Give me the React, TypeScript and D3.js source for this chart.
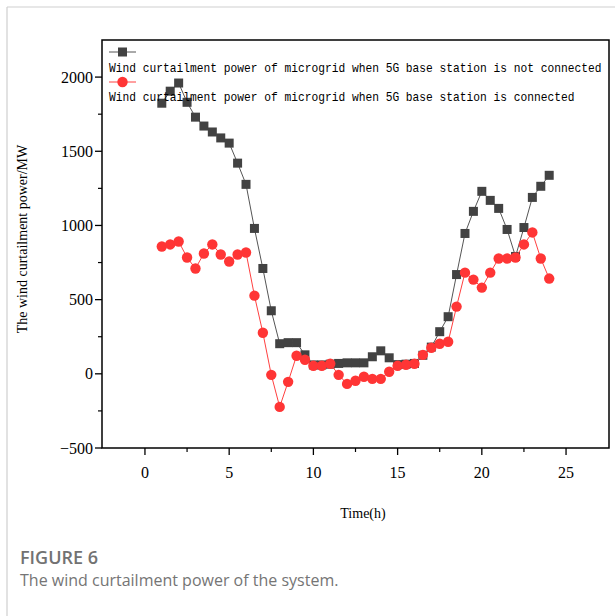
import React from 'react';
import * as d3 from 'd3';

// hours 1 .. 24 in half-hour steps
const hours: number[] = d3.range(1, 24.01, 0.5);

const notConnected: number[] = [
  1824, 1905, 1960, 1830, 1730, 1670, 1630, 1590, 1555, 1420,
  1277, 980, 710, 425, 203, 210, 210, 128, 60, 60,
  65, 70, 74, 74, 74, 115, 155, 108, 62, 65,
  70, 125, 180, 284, 385, 669, 946, 1095, 1230, 1169,
  1115, 973, 791, 986, 1189, 1264, 1338,
];

const connected: number[] = [
  858, 872, 892, 784, 710, 811, 872, 804, 757, 804,
  818, 527, 277, -7, -223, -54, 122, 95, 54, 54,
  68, -7, -68, -47, -20, -34, -34, 14, 54, 61,
  68, 128, 176, 203, 216, 453, 682, 635, 581, 682,
  777, 777, 784, 872, 953, 777, 642,
];

const xTicks = [0, 5, 10, 15, 20, 25];
const yTicks = [-500, 0, 500, 1000, 1500, 2000];
const legendLabels = [
  'Wind curtailment power of microgrid when 5G base station is not connected',
  'Wind curtailment power of microgrid when 5G base station is connected',
];

const W = 615, H = 616;
const box = { left: 102, right: 609, top: 40, bottom: 448 };

export default function App() {
  const x = d3.scaleLinear().domain([-2.55, 27.55]).range([box.left, box.right]);
  const y = d3.scaleLinear().domain([-500, 2250]).range([box.bottom, box.top]);

  const line = d3.line<number>()
    .x((_, i) => x(hours[i]))
    .y(d => y(d));

  const xMinor = d3.range(2.5, 27.5, 5);
  const yMinor = d3.range(-250, 2250, 500);
  const serif = '"Liberation Serif", "Times New Roman", serif';
  const mono = '"Liberation Mono", monospace';

  return (
    <svg width={W} height={H} style={{ position: 'absolute', left: 0, top: 0, background: '#fff' }}>
      {/* page border */}
      <line x1={7} x2={W} y1={7} y2={7} stroke="#cfcfcf" strokeWidth={1.2} />
      <line x1={7} x2={7} y1={7} y2={H} stroke="#cfcfcf" strokeWidth={1.2} />

      {/* series */}
      <path d={line(notConnected) || ''} fill="none" stroke="#555" strokeWidth={1} />
      {notConnected.map((v, i) => (
        <rect key={'b' + i} x={x(hours[i]) - 4.5} y={y(v) - 4.5} width={9} height={9} fill="#424242" />
      ))}
      <path d={line(connected) || ''} fill="none" stroke="#ff4040" strokeWidth={1} />
      {connected.map((v, i) => (
        <circle key={'r' + i} cx={x(hours[i])} cy={y(v)} r={5.2} fill="#ff3535" />
      ))}

      {/* frame */}
      <rect x={box.left} y={box.top} width={box.right - box.left} height={box.bottom - box.top}
        fill="none" stroke="#000" strokeWidth={1.5} />

      {/* x axis */}
      {xTicks.map(t => (
        <g key={'xt' + t}>
          <line x1={x(t)} x2={x(t)} y1={box.bottom} y2={box.bottom + 7} stroke="#000" strokeWidth={1.3} />
          <text x={x(t)} y={478} textAnchor="middle" fontFamily={serif} fontSize={16}>{t}</text>
        </g>
      ))}
      {xMinor.map(t => (
        <line key={'xm' + t} x1={x(t)} x2={x(t)} y1={box.bottom} y2={box.bottom + 4} stroke="#000" strokeWidth={1.2} />
      ))}
      <text x={363} y={518} textAnchor="middle" fontFamily={serif} fontSize={14}>Time(h)</text>

      {/* y axis */}
      {yTicks.map(t => (
        <g key={'yt' + t}>
          <line x1={box.left - 7} x2={box.left} y1={y(t)} y2={y(t)} stroke="#000" strokeWidth={1.3} />
          <text x={box.left - 9} y={y(t) + 5.5} textAnchor="end" fontFamily={serif} fontSize={16}>
            {t < 0 ? '\u2212' + Math.abs(t) : t}
          </text>
        </g>
      ))}
      {yMinor.map(t => (
        <line key={'ym' + t} x1={box.left - 4} x2={box.left} y1={y(t)} y2={y(t)} stroke="#000" strokeWidth={1.2} />
      ))}
      <text transform={`translate(27,239) rotate(-90)`} textAnchor="middle"
        fontFamily={serif} fontSize={14}>The wind curtailment power/MW</text>

      {/* legend */}
      <line x1={109} x2={136} y1={52} y2={52} stroke="#555" strokeWidth={1} />
      <rect x={118} y={47.5} width={9} height={9} fill="#424242" />
      <text transform="translate(109,72) scale(1,1.18)" fontFamily={mono} fontSize={11.25}>{legendLabels[0]}</text>
      <line x1={109} x2={136} y1={82} y2={82} stroke="#ff4040" strokeWidth={1} />
      <circle cx={122.5} cy={82} r={5.2} fill="#ff3535" />
      <text transform="translate(109,101) scale(1,1.18)" fontFamily={mono} fontSize={11.25}>{legendLabels[1]}</text>

      {/* caption */}
      <text x={20} y={564} fontFamily='"Open Sans", "Noto Sans", sans-serif' fontSize={18} fontWeight={600}
        fill="#727272">FIGURE 6</text>
      <text x={20} y={586} fontFamily='"Open Sans", "Noto Sans", sans-serif' fontSize={16}
        fill="#757575">The wind curtailment power of the system.</text>
    </svg>
  );
}
